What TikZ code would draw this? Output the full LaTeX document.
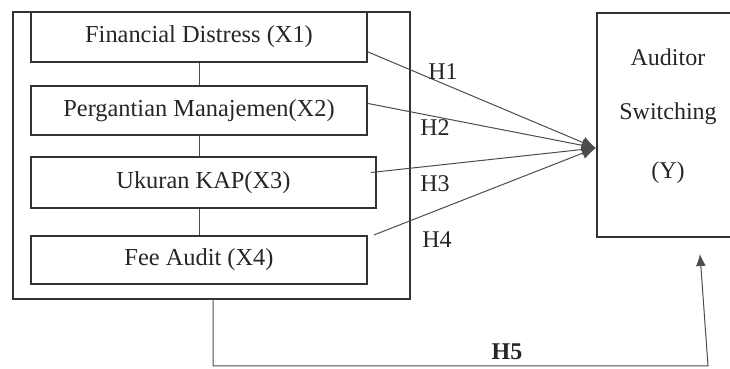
\documentclass[tikz,border=0pt]{standalone}
\usepackage{fontspec}
\setmainfont{Liberation Serif}
\usetikzlibrary{arrows.meta}
\begin{document}
\begin{tikzpicture}[x=0.5pt,y=-0.5pt,
  box/.style={draw=black!80,line width=1.1pt,rectangle,inner sep=0pt,font=\fontsize{12.2}{14}\selectfont,text=black!85},
  link/.style={draw=black!70,line width=0.5pt},
  hyp/.style={link,-{Latex[length=7pt,width=6pt]}},
  lab/.style={font=\fontsize{12}{14}\selectfont,text=black!85,inner sep=0pt}]
\useasboundingbox (0,0) rectangle (730,369);
\node[box,line width=1.3pt,minimum width=198.5pt,minimum height=143.5pt] (outer) at (211.5,155.5) {};
\node[box,minimum width=168pt,minimum height=25pt] (x1) at (199,37) {Financial Distress (X1)};
\node[box,minimum width=168pt,minimum height=24.5pt] (x2) at (199,110.5) {Pergantian Manajemen(X2)};
\node[box,minimum width=172.5pt,minimum height=25.5pt] (x3) at (203.5,182.5) {Ukuran KAP(X3)};
\node[box,minimum width=168pt,minimum height=24pt] (x4) at (199,260) {Fee Audit (X4)};
\node[box,minimum width=71.5pt,minimum height=112pt] (y) at (668.5,125) {};
\node[lab,align=center] (ytext) at (668,57) {Auditor};
\node[lab,align=center] (ytext2) at (668,114) {Switching};
\node[lab,align=center] (ytext3) at (668,173) {(Y)};
\draw[link] (x1.south) -- (x2.north);
\draw[link] (x2.south) -- (x3.north -| x2.south);
\draw[link] (x3.south -| x2.south) -- (x4.north);
\coordinate (tip) at ([yshift=-11.5pt]y.west);
\draw[hyp] ([yshift=-7.5pt]x1.east) -- (tip);
\draw[hyp] ([yshift=3.5pt]x2.east) -- (tip);
\draw[hyp] ([xshift=-3pt,yshift=5pt]x3.east) -- (tip);
\draw[hyp] ([xshift=3pt]x4.north east) -- (tip);
\node[lab] (h1) at (443,72) {H1};
\node[lab] (h2) at (435,128) {H2};
\node[lab] (h3) at (435,184) {H3};
\node[lab] (h4) at (437,240) {H4};
\coordinate (c1) at (213,366);
\coordinate (c2) at (708,366);
\coordinate (h5tip) at (700,254);
\draw[link,-{Latex[length=6pt,width=5pt]}] (outer.south -| c1) -- (c1) -- (c2) -- (h5tip);
\node[lab,font=\fontsize{12}{14}\selectfont\bfseries] (h5) at (507,352) {H5};
\end{tikzpicture}
\end{document}
